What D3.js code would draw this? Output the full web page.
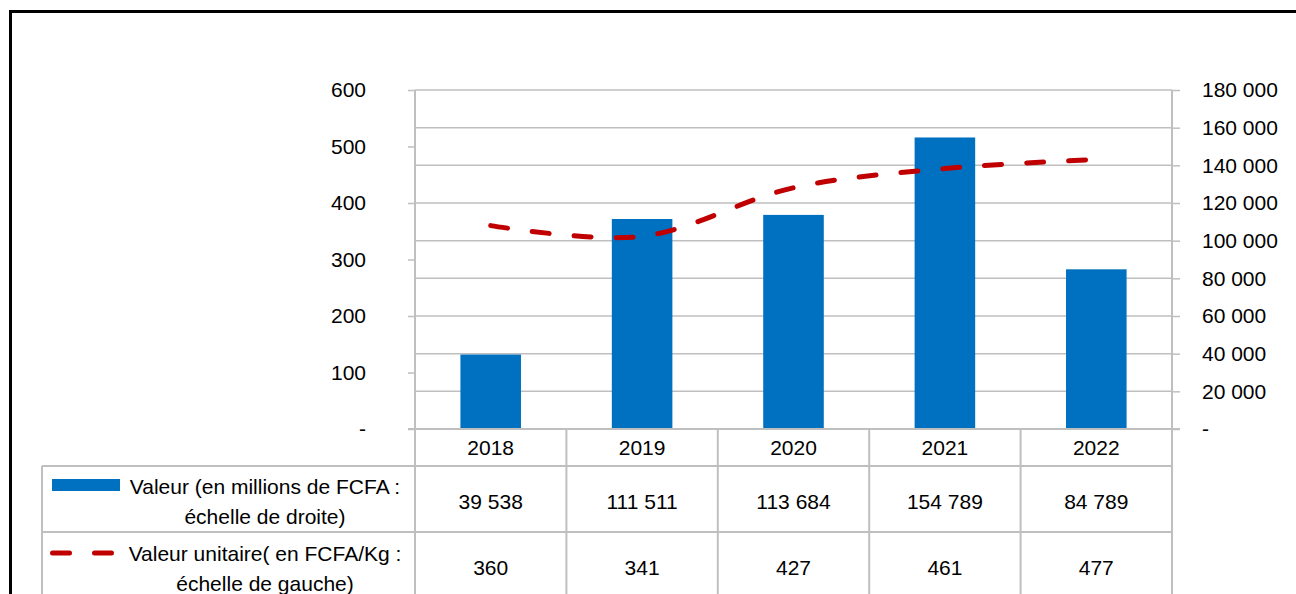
<!DOCTYPE html>
<html>
<head>
<meta charset="utf-8">
<script src="https://cdn.jsdelivr.net/npm/d3@7"></script>
<style>
  body { margin: 0; background: #fff; }
  text { font-family: "Liberation Sans", Arial, sans-serif; font-size: 21px; fill: #000; }
</style>
</head>
<body>
<div id="chart"></div>
<script>
// Data
const years = ["2018", "2019", "2020", "2021", "2022"];
const valeurs = [39538, 111511, 113684, 154789, 84789];   // bars, right scale
const unitaires = [360, 341, 427, 461, 477];             // dashed line, left scale
const leftTicks = [0, 100, 200, 300, 400, 500, 600];
const rightTicks = [0, 20000, 40000, 60000, 80000, 100000, 120000, 140000, 160000, 180000];
const labelBars = ["Valeur (en millions de FCFA :", "échelle de droite)"];
const labelLine = ["Valeur unitaire( en FCFA/Kg :", "échelle de gauche)"];

// Dimensions
const width = 1296, height = 594;
const plot = {left: 415, right: 1172, top: 90, bottom: 429};
const table = {left: 42, row1: 466, row2: 532, bottom: 600};
const gridColor = "#BFBFBF";

const svg = d3.select("#chart").append("svg")
    .attr("width", width)
    .attr("height", height);

// Outer frame (runs off right and bottom)
svg.append("rect")
    .attr("x", 10.5).attr("y", 11.5)
    .attr("width", 1400).attr("height", 700)
    .attr("fill", "none")
    .attr("stroke", "#000")
    .attr("stroke-width", 3);

// Scales
const x = d3.scaleBand().domain(years).range([plot.left, plot.right]).padding(0);
const yLeft = d3.scaleLinear().domain([0, 600]).range([plot.bottom, plot.top]);
const yRight = d3.scaleLinear().domain([0, 180000]).range([plot.bottom, plot.top]);

const locale = d3.formatLocale({decimal: ",", thousands: "\u00a0", grouping: [3], currency: ["", ""]});
const fmt = locale.format(",d");

// Gridlines (follow right axis)
svg.append("g")
    .selectAll("line")
    .data(rightTicks.filter(d => d > 0))
    .join("line")
        .attr("x1", plot.left).attr("x2", plot.right)
        .attr("y1", d => yRight(d)).attr("y2", d => yRight(d))
        .attr("stroke", gridColor)
        .attr("stroke-width", 1.5);

// Left axis
const axisL = svg.append("g")
    .attr("transform", "translate(" + plot.left + ",0)")
    .call(d3.axisLeft(yLeft)
        .tickValues(leftTicks)
        .tickSize(7)
        .tickPadding(42)
        .tickFormat(d => d === 0 ? "-" : d));

// Right axis
const axisR = svg.append("g")
    .attr("transform", "translate(" + plot.right + ",0)")
    .call(d3.axisRight(yRight)
        .tickValues(rightTicks)
        .tickSize(8)
        .tickPadding(22)
        .tickFormat(d => d === 0 ? "-" : fmt(d)));

[axisL, axisR].forEach(function(g) {
    g.select(".domain").remove();
    g.selectAll(".tick line").attr("stroke", gridColor).attr("stroke-width", 1.5);
    g.selectAll("text").style("font-family", "Liberation Sans, Arial, sans-serif").style("font-size", "21px").attr("fill", "#000");
    g.append("line")
        .attr("y1", plot.top).attr("y2", plot.bottom)
        .attr("stroke", gridColor).attr("stroke-width", 2);
});

// Bars
const barW = x.bandwidth() * 0.4;
svg.append("g")
    .selectAll("rect")
    .data(valeurs)
    .join("rect")
        .attr("x", (d, i) => x(years[i]) + (x.bandwidth() - barW) / 2)
        .attr("y", d => yRight(d))
        .attr("width", barW)
        .attr("height", d => plot.bottom - yRight(d))
        .attr("fill", "#0070C0");

// Dashed smoothed line
const line = d3.line()
    .x((d, i) => x(years[i]) + x.bandwidth() / 2)
    .y(d => yLeft(d))
    .curve(d3.curveCatmullRom.alpha(0.5));

const dash = "17,25";
svg.append("path")
    .datum(unitaires)
    .attr("d", line)
    .attr("fill", "none")
    .attr("stroke", "#C00000")
    .attr("stroke-width", 5)
    .attr("stroke-linecap", "round")
    .attr("stroke-dasharray", dash);

// Category axis line
svg.append("line")
    .attr("x1", plot.left - 7).attr("x2", plot.right + 8)
    .attr("y1", plot.bottom).attr("y2", plot.bottom)
    .attr("stroke", gridColor).attr("stroke-width", 2);

// Data table grid
const tbl = svg.append("g");
const bounds = years.map(y => x(y)).concat([plot.right]);
tbl.selectAll("line.v")
    .data(bounds)
    .join("line")
        .attr("x1", d => d).attr("x2", d => d)
        .attr("y1", plot.bottom).attr("y2", table.bottom)
        .attr("stroke", gridColor).attr("stroke-width", 2);
tbl.append("line")
    .attr("x1", table.left).attr("x2", table.left)
    .attr("y1", table.row1).attr("y2", table.bottom)
    .attr("stroke", gridColor).attr("stroke-width", 2);
[table.row1, table.row2].forEach(function(yy) {
    tbl.append("line")
        .attr("x1", table.left).attr("x2", plot.right)
        .attr("y1", yy).attr("y2", yy)
        .attr("stroke", gridColor).attr("stroke-width", 2);
});

// Year labels
tbl.selectAll("text.year")
    .data(years)
    .join("text")
        .attr("x", d => x(d) + x.bandwidth() / 2)
        .attr("y", 448)
        .attr("dy", "0.35em")
        .attr("text-anchor", "middle")
        .text(d => d);

// Row values
tbl.selectAll("text.val")
    .data(valeurs)
    .join("text")
        .attr("x", (d, i) => x(years[i]) + x.bandwidth() / 2)
        .attr("y", 502)
        .attr("dy", "0.35em")
        .attr("text-anchor", "middle")
        .text(d => fmt(d));

tbl.selectAll("text.unit")
    .data(unitaires)
    .join("text")
        .attr("x", (d, i) => x(years[i]) + x.bandwidth() / 2)
        .attr("y", 568)
        .attr("dy", "0.35em")
        .attr("text-anchor", "middle")
        .text(d => d);

// Legend keys
tbl.append("rect")
    .attr("x", 52).attr("y", 479)
    .attr("width", 68).attr("height", 12)
    .attr("fill", "#0070C0");

tbl.append("line")
    .attr("x1", 52.5).attr("x2", 112.5)
    .attr("y1", 553).attr("y2", 553)
    .attr("stroke", "#C00000")
    .attr("stroke-width", 5)
    .attr("stroke-linecap", "round")
    .attr("stroke-dasharray", dash);

// Legend text
function addLabel(lines, y0) {
    tbl.append("g")
        .selectAll("text")
        .data(lines)
        .join("text")
            .attr("x", 265)
            .attr("y", (d, i) => y0 + i * 30)
            .attr("dy", "0.35em")
            .attr("text-anchor", "middle")
            .text(d => d);
}
addLabel(labelBars, 487);
addLabel(labelLine, 554);
</script>
</body>
</html>
